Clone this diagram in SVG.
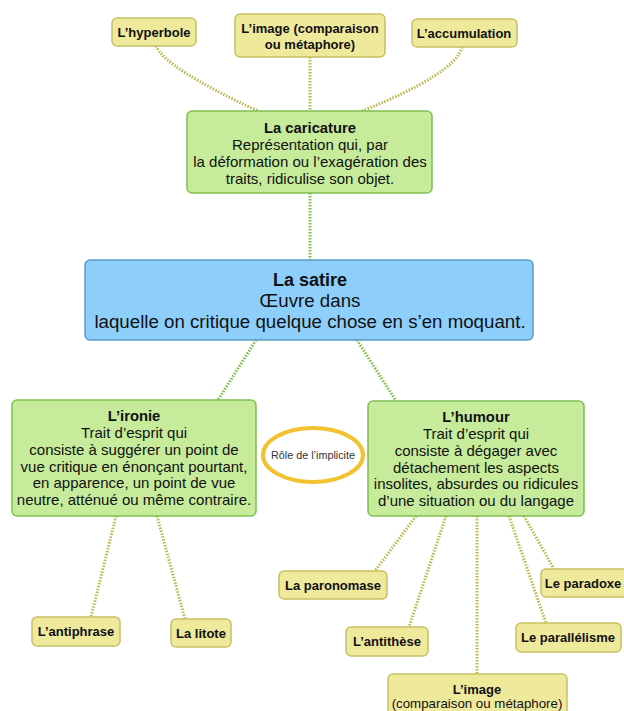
<svg xmlns="http://www.w3.org/2000/svg" width="624" height="711" viewBox="0 0 624 711">
<style>
.y{fill:#EFE99C;stroke:#C9C063;stroke-width:1.5}
.g{fill:#C6EC9B;stroke:#7FBF50;stroke-width:1.5}
.b{fill:#8DCFFA;stroke:#5A9EC6;stroke-width:1.5}
.cy{stroke:#BDB84C;stroke-width:3;stroke-dasharray:1.5 1.5;fill:none}
.cg{stroke:#7DBD45;stroke-width:3;stroke-dasharray:1.5 1.5;fill:none}
text{font-family:"Liberation Sans",Arial,sans-serif;fill:#111;text-anchor:middle}
.lb{font-size:13px;font-weight:bold}
.tb{font-size:14.8px;font-weight:bold}
.t{font-size:15px}
.t2{font-size:13.3px}
.sb{font-size:18px;font-weight:bold}
.s{font-size:18.7px}
</style>
<rect width="624" height="711" fill="#fff"/>
<g id="connectors">
<path class="cy" d="M156 46 Q165 68 258 111"/>
<line class="cy" x1="310" y1="57" x2="310" y2="111"/>
<path class="cy" d="M462 47 Q455 74 362 111"/>
<line class="cg" x1="310" y1="193" x2="310" y2="261"/>
<line class="cg" x1="256" y1="340" x2="218" y2="400"/>
<line class="cg" x1="357" y1="340" x2="396" y2="401"/>
<line class="cy" x1="116" y1="516" x2="91" y2="617"/>
<line class="cy" x1="157" y1="516" x2="185" y2="619"/>
<line class="cy" x1="416" y1="516" x2="375" y2="571"/>
<line class="cy" x1="446" y1="516" x2="409" y2="627"/>
<line class="cy" x1="477" y1="516" x2="477" y2="674"/>
<line class="cy" x1="509" y1="516" x2="546" y2="623"/>
<line class="cy" x1="524" y1="516" x2="554" y2="569"/>
</g>
<g id="hyperbole"><rect class="y" x="112" y="18" width="84" height="28" rx="5"/><text class="lb" x="154" y="37">L’hyperbole</text></g>
<g id="image-top"><rect class="y" x="235" y="14" width="150" height="43" rx="5"/><text class="lb" x="310" y="33">L’image (comparaison</text><text class="lb" x="310" y="49">ou métaphore)</text></g>
<g id="accumulation"><rect class="y" x="412" y="19" width="105" height="28" rx="5"/><text class="lb" x="464" y="38">L’accumulation</text></g>
<g id="caricature"><rect class="g" x="187" y="111" width="245" height="82" rx="5"/>
<text class="tb" x="310" y="133">La caricature</text>
<text class="t" x="310" y="150">Représentation qui, par</text>
<text class="t" x="310" y="167">la déformation ou l’exagération des</text>
<text class="t" x="310" y="184">traits, ridiculise son objet.</text></g>
<g id="satire"><rect class="b" x="85" y="260" width="448" height="80" rx="5"/>
<text class="sb" x="310" y="286">La satire</text>
<text class="s" x="310" y="307">Œuvre dans</text>
<text class="s" x="310" y="328">laquelle on critique quelque chose en s’en moquant.</text></g>
<g id="ironie"><rect class="g" x="12" y="400" width="244" height="116" rx="5"/>
<text class="tb" x="134" y="421">L’ironie</text>
<text class="t" x="134" y="438">Trait d’esprit qui</text>
<text class="t" x="134" y="455">consiste à suggérer un point de</text>
<text class="t" x="134" y="471.5">vue critique en énonçant pourtant,</text>
<text class="t" x="134" y="488">en apparence, un point de vue</text>
<text class="t" x="134" y="505">neutre, atténué ou même contraire.</text></g>
<g id="implicite"><ellipse cx="313" cy="455" rx="50" ry="27" fill="#fff" stroke="#F2C230" stroke-width="4"/>
<text x="313" y="459" style="font-size:10.8px;fill:#333">Rôle de l’implicite</text></g>
<g id="humour"><rect class="g" x="368" y="401" width="216" height="115" rx="5"/>
<text class="tb" x="476" y="422">L’humour</text>
<text class="t" x="476" y="439">Trait d’esprit qui</text>
<text class="t" x="476" y="456">consiste à dégager avec</text>
<text class="t" x="476" y="472.5">détachement les aspects</text>
<text class="t" x="476" y="489">insolites, absurdes ou ridicules</text>
<text class="t" x="476" y="506">d’une situation ou du langage</text></g>
<g id="antiphrase"><rect class="y" x="32" y="617" width="88" height="29" rx="5"/><text class="lb" x="76" y="636">L’antiphrase</text></g>
<g id="litote"><rect class="y" x="171" y="619" width="60" height="28" rx="5"/><text class="lb" x="201" y="638">La litote</text></g>
<g id="paronomase"><rect class="y" x="279" y="571" width="108" height="28" rx="5"/><text class="lb" x="333" y="590">La paronomase</text></g>
<g id="antithese"><rect class="y" x="346" y="627" width="82" height="29" rx="5"/><text class="lb" x="387" y="646">L’antithèse</text></g>
<g id="image-bottom"><rect class="y" x="388" y="674" width="179" height="45" rx="5"/><text class="lb" x="477" y="694">L’image</text><text class="t2" x="477" y="708">(comparaison ou métaphore)</text></g>
<g id="parallelisme"><rect class="y" x="516" y="623" width="105" height="29" rx="5"/><text class="lb" x="568" y="642">Le parallélisme</text></g>
<g id="paradoxe"><rect class="y" x="541" y="569" width="90" height="28" rx="5"/><text class="lb" x="583" y="588">Le paradoxe</text></g>
</svg>
